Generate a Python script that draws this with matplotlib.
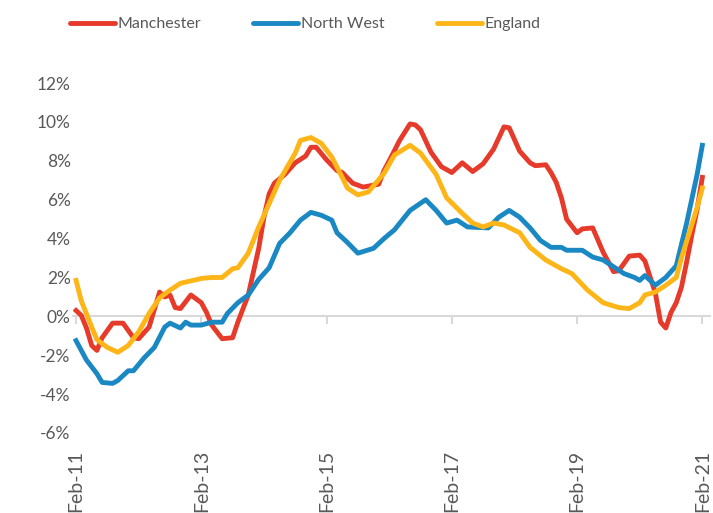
import matplotlib
matplotlib.use("Agg")
import matplotlib.pyplot as plt

# months since Feb-2011, values in %
man_m = [0, 1, 2, 3, 4, 5, 7, 9, 11, 12, 14, 16, 17, 18, 19, 20, 22, 24, 25, 26, 28, 30,
         31, 32, 33, 34, 35, 36, 37, 38, 40, 42, 44, 45, 46, 48, 50, 51, 53, 55, 56, 58,
         59, 60, 62, 64, 65, 66, 68, 70, 72, 74, 76, 78, 80, 82, 83, 85, 87, 88, 90, 91,
         92, 93, 94, 96, 97, 99, 101, 103, 104, 106, 108, 109, 111, 112, 113, 114, 115,
         116, 117, 118, 119, 120]
man_v = [0.3, 0.05, -0.6, -1.5, -1.75, -1.1, -0.35, -0.35, -1.1, -1.15, -0.55, 1.25, 1.0,
         1.1, 0.45, 0.4, 1.1, 0.7, 0.2, -0.45, -1.15, -1.1, -0.3, 0.4, 1.1, 2.3, 3.5, 5.1,
         6.3, 6.85, 7.3, 7.9, 8.25, 8.7, 8.7, 8.05, 7.5, 7.4, 6.85, 6.65, 6.7, 6.8, 7.5,
         8.0, 9.05, 9.9, 9.85, 9.6, 8.45, 7.7, 7.4, 7.9, 7.45, 7.85, 8.6, 9.75, 9.7, 8.5,
         7.9, 7.75, 7.8, 7.4, 6.9, 6.1, 5.0, 4.3, 4.5, 4.55, 3.3, 2.3, 2.35, 3.1, 3.15,
         2.85, 1.2, -0.3, -0.6, 0.2, 0.7, 1.5, 2.8, 4.2, 5.5, 7.15]

nw_m = [0, 2, 4, 5, 7, 8, 10, 11, 13, 15, 17, 18, 20, 21, 22, 24, 26, 28, 29, 31, 33, 35,
        37, 39, 41, 43, 45, 47, 49, 50, 52, 54, 57, 59, 61, 64, 67, 69, 71, 73, 75, 79,
        81, 83, 85, 87, 89, 91, 93, 94, 97, 99, 101, 103, 105, 107, 108, 109, 111, 113,
        115, 117, 119, 120]
nw_v = [-1.25, -2.25, -2.95, -3.4, -3.45, -3.3, -2.8, -2.8, -2.15, -1.6, -0.55, -0.35,
        -0.6, -0.3, -0.45, -0.45, -0.3, -0.3, 0.15, 0.7, 1.1, 1.9, 2.5, 3.75, 4.3, 4.95,
        5.35, 5.2, 4.95, 4.3, 3.8, 3.25, 3.5, 4.0, 4.45, 5.45, 6.0, 5.45, 4.8, 4.95, 4.6,
        4.55, 5.1, 5.45, 5.1, 4.55, 3.9, 3.55, 3.55, 3.4, 3.4, 3.05, 2.9, 2.55, 2.2, 2.0,
        1.85, 2.1, 1.6, 2.0, 2.6, 4.8, 7.3, 8.8]

eng_m = [0, 1, 3, 4, 6, 8, 10, 12, 14, 16, 18, 20, 24, 26, 28, 30, 31, 33, 35, 37, 39,
         42, 43, 45, 47, 49, 51, 52, 54, 56, 59, 61, 64, 66, 69, 71, 74, 76, 78, 80, 82,
         85, 87, 90, 93, 95, 98, 101, 104, 106, 108, 109, 111, 113, 115, 116, 119, 120]
eng_v = [1.85, 0.8, -0.55, -1.2, -1.6, -1.85, -1.5, -0.8, 0.15, 0.95, 1.35, 1.7, 1.95,
         2.0, 2.0, 2.45, 2.5, 3.25, 4.6, 5.8, 7.0, 8.4, 9.05, 9.2, 8.9, 8.2, 7.15, 6.6,
         6.25, 6.4, 7.35, 8.3, 8.8, 8.4, 7.3, 6.1, 5.3, 4.8, 4.6, 4.8, 4.7, 4.3, 3.55,
         2.9, 2.45, 2.2, 1.35, 0.7, 0.45, 0.4, 0.7, 1.1, 1.25, 1.6, 2.0, 3.0, 5.6, 6.6]

tick_m = [0, 24, 48, 72, 96, 120]
tick_lbl = ["Feb-11", "Feb-13", "Feb-15", "Feb-17", "Feb-19", "Feb-21"]

grey = "#595959"
plt.rcParams["font.family"] = ["Lato", "DejaVu Sans"]

fig = plt.figure(figsize=(7.13, 5.13), dpi=100)
ax = fig.add_axes([0.103, 0.156, 0.893, 0.682])

ax.plot(man_m, man_v, color="#E63A2A", lw=3.5, label="Manchester", solid_joinstyle="round", zorder=3)
ax.plot(nw_m, nw_v, color="#1A88C2", lw=3.5, label="North West", solid_joinstyle="round", zorder=3)
ax.plot(eng_m, eng_v, color="#FDB517", lw=3.5, label="England", solid_joinstyle="round", zorder=4)

ax.set_xlim(-0.5, 121.5)
ax.set_ylim(-6, 12)
ax.set_yticks(range(-6, 13, 2))
ax.set_yticklabels([f"{v}%" for v in range(-6, 13, 2)])

for s in ["top", "right", "left"]:
    ax.spines[s].set_visible(False)
ax.spines["bottom"].set_position(("data", 0))
ax.spines["bottom"].set_color("#D9D9D9")
ax.spines["bottom"].set_linewidth(1.5)
ax.set_xticks(tick_m)
ax.tick_params(axis="x", length=6, width=1.5, color="#D9D9D9", labelbottom=False)
ax.tick_params(axis="y", length=0, pad=2, labelsize=12.5, labelcolor=grey)

sec = ax.secondary_xaxis("bottom")
sec.set_xticks(tick_m)
sec.set_xticklabels(tick_lbl, rotation=90)
sec.tick_params(length=0, pad=12, labelsize=14, labelcolor=grey)
sec.spines["bottom"].set_visible(False)

leg = fig.legend(loc="upper left", bbox_to_anchor=(0.078, 0.995), ncol=3, frameon=False,
                 handlelength=2.8, handletextpad=0.15, columnspacing=3.3,
                 prop={"size": 11.5}, labelcolor=grey)
for h in leg.legend_handles:
    h.set_solid_capstyle("round")

fig.savefig("out.png", dpi=100)
